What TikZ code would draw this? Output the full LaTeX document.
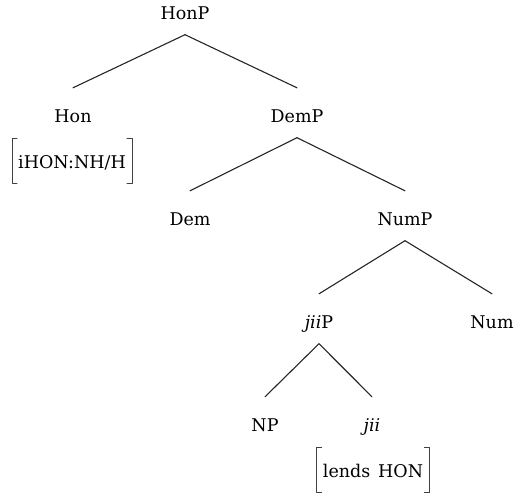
\documentclass[tikz,border=0pt]{standalone}
\usepackage{fontspec}
\setmainfont{DejaVu Serif}

\begin{document}
\begin{tikzpicture}[
  x={(1pt,0pt)},
  y={(0pt,-1pt)},
  line join=round,
  line cap=round,
  cat/.style={anchor=base,inner sep=0pt,text height=34pt,text depth=15.5pt,
    font=\fontsize{17.5}{21}\selectfont},
  feat/.style={anchor=base,inner ysep=0pt,inner xsep=6pt,text height=29pt,text depth=15pt,
    font=\fontsize{17.5}{21}\selectfont},
  branch/.style={draw=black!85,line width=1.1pt},
  brk/.style={draw=black!75,line width=0.9pt}
]
  \useasboundingbox (0,0) rectangle (516,493);

  % Categories, placed on their baselines.
  \node[cat] (honp) at (185,19)  {HonP};
  \node[cat] (hon)  at (73,122)  {Hon};
  \node[cat] (demp) at (297,122) {DemP};
  \node[cat] (dem)  at (190,225) {Dem};
  \node[cat] (nump) at (405,225) {NumP};
  \node[cat] (jiip) at (319,328) {\textit{jii}P};
  \node[cat] (num)  at (492,328) {Num};
  \node[cat] (np)   at (265,431) {NP};
  \node[cat] (jii)  at (372,431) {\textit{jii}};

  % Feature matrices under the heads.
  \node[feat] (honf) at (72,168)  {iHON:NH/H};
  \node[feat] (jiif) at (373,477) {lends\hspace{0.45em}HON};

  % Branches.
  \foreach \p/\c in {honp/hon,honp/demp,demp/dem,demp/nump,nump/jiip,nump/num,jiip/np,jiip/jii} {
    \draw[branch] (\p.south) -- (\c.north);
  }

  % Square brackets round the features.
  \foreach \f in {honf,jiif} {
    \draw[brk] ([xshift=5pt]\f.north west) -- (\f.north west) -- (\f.south west) -- ([xshift=5pt]\f.south west);
    \draw[brk] ([xshift=-5pt]\f.north east) -- (\f.north east) -- (\f.south east) -- ([xshift=-5pt]\f.south east);
  }
\end{tikzpicture}
\end{document}
